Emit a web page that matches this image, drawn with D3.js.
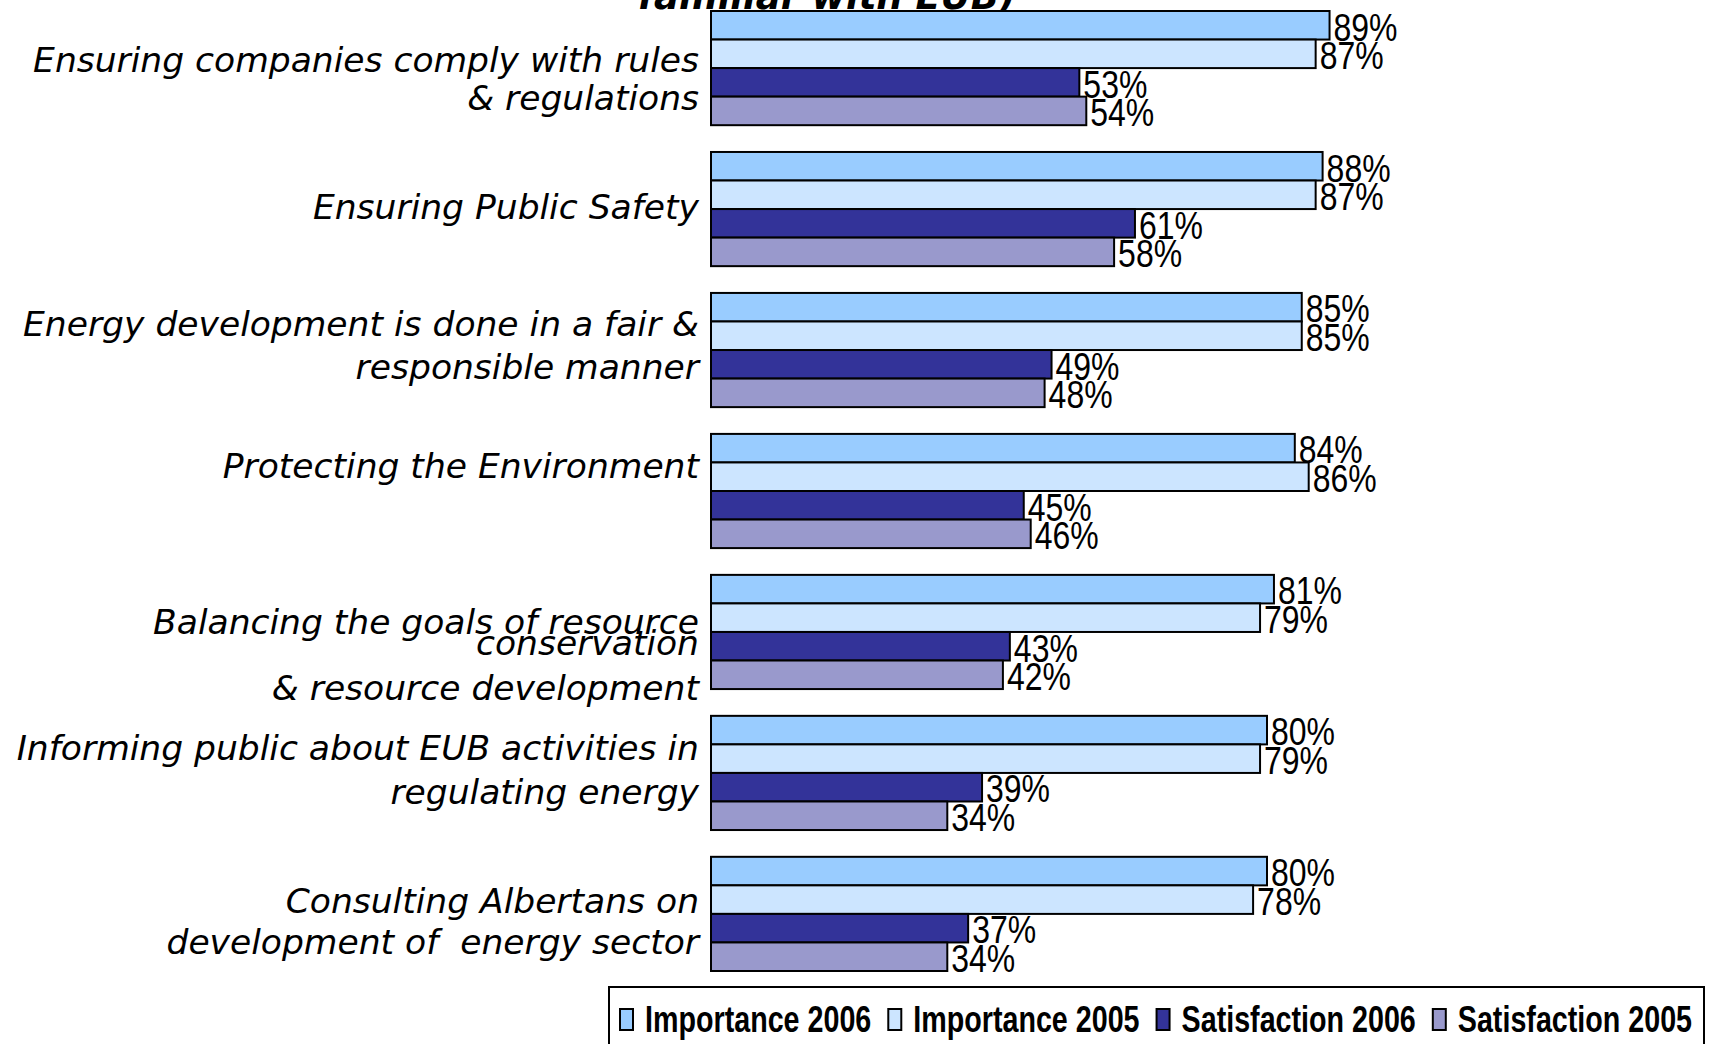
<!DOCTYPE html>
<html>
<head>
<meta charset="utf-8">
<script src="https://cdn.jsdelivr.net/npm/d3@7"></script>
<style>
  html, body { margin: 0; padding: 0; background: #fff; overflow: hidden; }
  svg { display: block; }
</style>
</head>
<body>
<svg id="chart" width="1713" height="1044"></svg>
<script>
// ---------------- DATA ----------------
const categories = [
  ["Ensuring companies comply with rules", "& regulations"],
  ["Ensuring Public Safety"],
  ["Energy development is done in a fair &", "responsible manner"],
  ["Protecting the Environment"],
  ["Balancing the goals of resource", "conservation", "& resource development"],
  ["Informing public about EUB activities in", "regulating energy"],
  ["Consulting Albertans on", "development of  energy sector"]
];
const seriesNames = ["Importance 2006", "Importance 2005", "Satisfaction 2006", "Satisfaction 2005"];
const importance2006 = [89, 88, 85, 84, 81, 80, 80];
const importance2005 = [87, 87, 85, 86, 79, 79, 78];
const satisfaction2006 = [53, 61, 49, 45, 43, 39, 37];
const satisfaction2005 = [54, 58, 48, 46, 42, 34, 34];
const titleText = "familiar with EUB)";

// ---------------- LAYOUT / STYLE ----------------
const seriesValues = [importance2006, importance2005, satisfaction2006, satisfaction2005];
const colors = ["#99CCFF", "#CCE5FF", "#333399", "#9999CC"];
const labelFont = "'DejaVu Sans', Verdana, sans-serif";
const sansFont = "'Liberation Sans', Arial, sans-serif";
const narrow = 0.82;        // horizontal squeeze to mimic Arial Narrow
const legendNarrow = 0.775;
// baseline offsets of each label line relative to the band centre
const labelBaselines = [[4, 42], [10], [-14, 29], [-13], [2, 23, 68], [-13, 31], [-1, 40]];

const svg = d3.select("#chart");
const idx = d3.range(categories.length);

const x = d3.scaleLinear().domain([0, 100]).range([711, 1406]);
const y = d3.scaleBand().domain(idx).range([11, 971]).paddingInner(0.19).paddingOuter(0);
const ySub = d3.scaleBand().domain(d3.range(seriesNames.length)).range([0, y.bandwidth()]).padding(0);

// title (top clipped as in the original)
svg.append("text")
  .attr("x", 827).attr("y", 9)
  .attr("text-anchor", "middle")
  .style("font-family", labelFont)
  .style("font-weight", "bold")
  .style("font-style", "italic")
  .style("font-size", "37px")
  .text(titleText);

// bars
const groups = svg.selectAll("g.group").data(idx).join("g")
  .attr("class", "group")
  .attr("transform", i => `translate(0,${y(i)})`);

const cells = groups.selectAll("g.cell")
  .data(i => seriesValues.map((vals, s) => ({ s, v: vals[i] })))
  .join("g").attr("class", "cell");

cells.append("rect")
  .attr("x", x(0))
  .attr("y", d => ySub(d.s))
  .attr("width", d => x(d.v) - x(0))
  .attr("height", ySub.bandwidth())
  .attr("fill", d => colors[d.s])
  .attr("stroke", "#000")
  .attr("stroke-width", 2);

cells.append("text")
  .attr("transform", d => `translate(${x(d.v) + 4},${ySub(d.s) + ySub.bandwidth() + 1}) scale(${narrow},1)`)
  .style("font-family", sansFont)
  .style("font-size", "39px")
  .attr("fill", "#000")
  .text(d => d.v + "%");

// category labels
idx.forEach(i => {
  const cy = y(i) + y.bandwidth() / 2;
  const t = svg.append("text")
    .attr("text-anchor", "end")
    .style("font-family", labelFont)
    .style("font-style", "italic")
    .style("font-size", "34.5px")
    .attr("fill", "#000");
  categories[i].forEach((line, k) => {
    t.append("tspan")
      .attr("x", 699)
      .attr("y", cy + labelBaselines[i][k])
      .attr("xml:space", "preserve")
      .style("white-space", "pre")
      .text(line);
  });
});

// legend
const legend = svg.append("g");
legend.append("rect")
  .attr("x", 609).attr("y", 987)
  .attr("width", 1095).attr("height", 80)
  .attr("fill", "#fff").attr("stroke", "#000").attr("stroke-width", 2);

let lx = 620;
seriesNames.forEach((name, s) => {
  legend.append("rect")
    .attr("x", lx).attr("y", 1009)
    .attr("width", 13).attr("height", 21)
    .attr("fill", colors[s]).attr("stroke", "#000").attr("stroke-width", 2);
  const tx = legend.append("text")
    .attr("transform", `translate(${lx + 25},1032) scale(${legendNarrow},1)`)
    .style("font-family", sansFont)
    .style("font-weight", "bold")
    .style("font-size", "37px")
    .text(name);
  lx = lx + 25 + tx.node().getComputedTextLength() * legendNarrow + 17;
});
</script>
</body>
</html>
